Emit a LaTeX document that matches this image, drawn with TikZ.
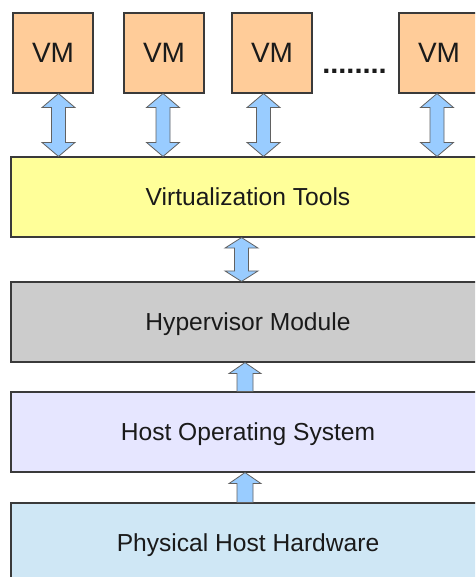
\documentclass[tikz,border=0pt]{standalone}
\usepackage{fontspec}
\setmainfont{Liberation Sans}
\usetikzlibrary{calc}

\definecolor{vmfill}{HTML}{FFCC99}
\definecolor{toolsfill}{HTML}{FFFF99}
\definecolor{hypfill}{HTML}{CCCCCC}
\definecolor{hostfill}{HTML}{E6E6FF}
\definecolor{hwfill}{HTML}{CFE7F5}
\definecolor{arrowfill}{HTML}{99CCFF}
\definecolor{edge}{HTML}{3A3A3A}
\definecolor{ink}{HTML}{1A1A1A}

\tikzset{
  vmbox/.style={draw=edge, line width=1.1pt, fill=vmfill, minimum width=80pt,
    minimum height=80pt, inner sep=0pt, text=ink, text height=20pt, text depth=0pt,
    font=\fontsize{28}{32}\selectfont},
  layer/.style={draw=edge, line width=1.1pt, minimum width=474pt,
    minimum height=80pt, inner sep=0pt, text=ink, text height=17.6pt, text depth=0pt,
    font=\fontsize{24.6}{28}\selectfont},
  arrowshape/.style={draw=edge!80, line width=0.8pt, fill=arrowfill, line join=miter}
}

% two-headed block arrow at x=#1 (pt) from #2.south down to #3.north,
% head half width #4, head length #5, shaft half width #6
\newcommand\twoway[6]{%
  \draw[arrowshape] let \p1=(#2.south), \p2=(#3.north) in
    (#1pt,\y1) -- (#1pt+#4pt,\y1-#5pt) -- (#1pt+#6pt,\y1-#5pt)
    -- (#1pt+#6pt,\y2+#5pt) -- (#1pt+#4pt,\y2+#5pt) -- (#1pt,\y2)
    -- (#1pt-#4pt,\y2+#5pt) -- (#1pt-#6pt,\y2+#5pt)
    -- (#1pt-#6pt,\y1-#5pt) -- (#1pt-#4pt,\y1-#5pt) -- cycle;}

% one-headed block arrow at x=#1 (pt), pointing up from #3.north to #2.south
\newcommand\oneway[6]{%
  \draw[arrowshape] let \p1=(#2.south), \p2=(#3.north) in
    (#1pt,\y1) -- (#1pt+#4pt,\y1-#5pt) -- (#1pt+#6pt,\y1-#5pt)
    -- (#1pt+#6pt,\y2) -- (#1pt-#6pt,\y2)
    -- (#1pt-#6pt,\y1-#5pt) -- (#1pt-#4pt,\y1-#5pt) -- cycle;}

\begin{document}
\begin{tikzpicture}[x=1pt, y=-1pt]
  \useasboundingbox (0,0) rectangle (475,577);
  \clip (0,0) rectangle (475,577);
  \fill[white] (0,0) rectangle (475,577);

  % virtual machines
  \node[vmbox] (vm1) at (53,53) {VM};
  \node[vmbox] (vm2) at (164,53) {VM};
  \node[vmbox] (vm3) at (272,53) {VM};
  \node[vmbox] (vm4) at (439,53) {VM};
  \node[anchor=base, text=ink, font=\bfseries\fontsize{29}{30}\selectfont]
    (dots) at (354.5,74) {........};

  % software / hardware stack
  \node[layer, fill=toolsfill] (tools) at (248,197) {Virtualization Tools};
  \node[layer, fill=hypfill]   (hyp)   at (248,322) {Hypervisor Module};
  \node[layer, fill=hostfill]  (host)  at (248,432) {Host Operating System};
  \node[layer, fill=hwfill]    (hw)    at (248,543) {Physical Host Hardware};

  % links between the layers
  \twoway{58.5}{vm1}{tools}{16.5}{14}{7}
  \twoway{163}{vm2}{tools}{16.5}{14}{7}
  \twoway{263.5}{vm3}{tools}{16.5}{14}{7}
  \twoway{437}{vm4}{tools}{16.5}{14}{7}
  \twoway{241.5}{tools}{hyp}{16.5}{10.5}{7}
  \oneway{245}{hyp}{host}{16}{11}{8}
  \oneway{245}{host}{hw}{16}{11}{8}
\end{tikzpicture}
\end{document}
